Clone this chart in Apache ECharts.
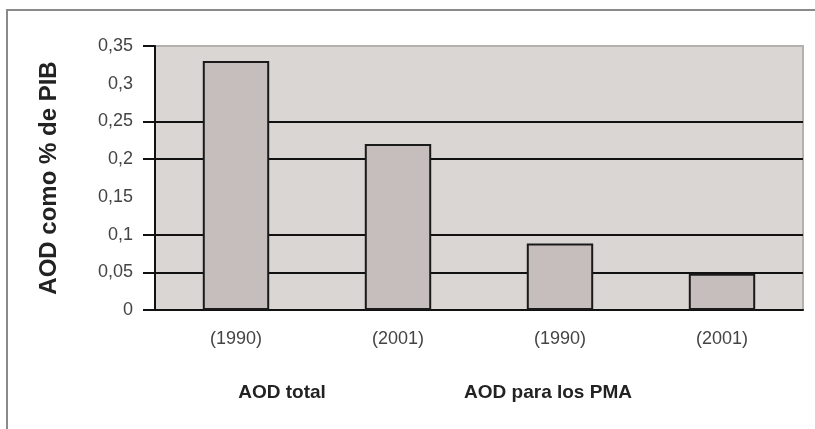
<!DOCTYPE html>
<html>
<head>
<meta charset="utf-8">
<script src="https://cdn.jsdelivr.net/npm/echarts@6/dist/echarts.min.js"></script>
<style>
    html, body {margin: 0; padding: 0; background: #fff;}
    #chart {width: 815px; height: 429px;}
</style>
</head>
<body>
<div id="chart"></div>
<script>
// datos
const years = ['(1990)', '(2001)', '(1990)', '(2001)'];
const groups = ['AOD total', 'AOD para los PMA'];
const aodValues = [0.33, 0.22, 0.088, 0.048];
const yTicks = [0, 0.05, 0.1, 0.2, 0.25, 0.35];

const myChart = echarts.init(document.getElementById('chart'));

const groupLabelStyle = {
    fontFamily: 'Liberation Sans',
    fontWeight: 'bold',
    fontSize: 19,
    fill: '#222',
    textAlign: 'center',
    textVerticalAlign: 'middle'
};

const option = {
    animation: false,
    graphic: [{
        type: 'rect',
        shape: {x: 7, y: 10, width: 900, height: 500},
        style: {fill: 'none', stroke: '#8a8a8a', lineWidth: 2}
    }, {
        type: 'text',
        x: 282, y: 393,
        style: Object.assign({text: groups[0]}, groupLabelStyle)
    }, {
        type: 'text',
        x: 548, y: 393,
        style: Object.assign({text: groups[1]}, groupLabelStyle)
    }],
    grid: {
        left: 155,
        right: 12,
        top: 46,
        bottom: 119,
        show: true,
        backgroundColor: '#dad6d4',
        borderColor: '#b4b0ae',
        borderWidth: 2
    },
    xAxis: [{
        type: 'category',
        data: years,
        axisLine: {lineStyle: {color: '#111', width: 2}},
        axisTick: {length: 7, lineStyle: {color: '#a8a8a8', width: 2}},
        axisLabel: {
            margin: 20,
            fontFamily: 'Liberation Sans',
            fontSize: 18,
            color: '#444'
        }
    }, {
        // solo marcas negras entre los dos grupos
        type: 'category',
        data: groups,
        position: 'bottom',
        axisLine: {show: false},
        axisTick: {length: 7, lineStyle: {color: '#111', width: 2}},
        axisLabel: {show: false}
    }],
    yAxis: {
        type: 'value',
        min: 0,
        max: 0.35,
        interval: 0.05,
        name: 'AOD como % de PIB',
        nameLocation: 'middle',
        nameGap: 94,
        nameTextStyle: {
            fontFamily: 'Liberation Sans',
            fontWeight: 'bold',
            fontSize: 24,
            color: '#222'
        },
        axisLine: {show: true, lineStyle: {color: '#111', width: 2}},
        axisTick: {show: true, length: 12, customValues: yTicks, lineStyle: {color: '#111', width: 2}},
        axisLabel: {
            margin: 22,
            fontFamily: 'Liberation Sans',
            fontSize: 18,
            color: '#444',
            formatter: v => String(+v.toFixed(2)).replace('.', ',')
        },
        splitLine: {
            show: true,
            showMinLine: false,
            showMaxLine: false,
            lineStyle: {color: '#111', width: 2}
        }
    },
    series: [{
        type: 'bar',
        xAxisIndex: 0,
        data: aodValues,
        barWidth: '41%',
        itemStyle: {color: '#c5bebd', borderColor: '#1a1a1a', borderWidth: 2}
    }]
};

myChart.setOption(option);
</script>
</body>
</html>
